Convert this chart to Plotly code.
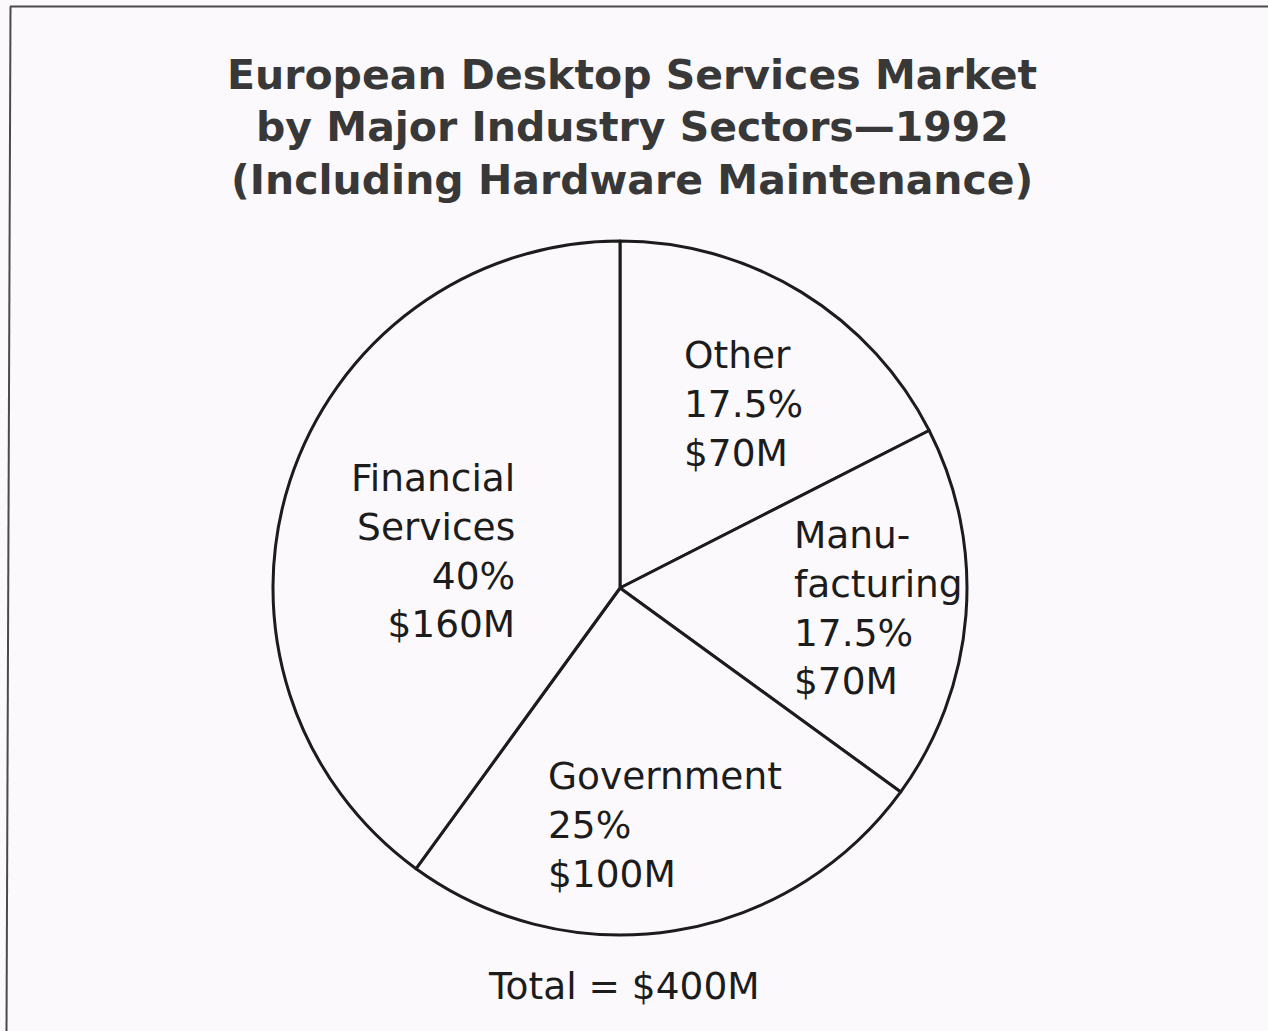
import plotly.graph_objects as go

# Canvas size in pixels
W, H = 1268, 1031

# ---- data -------------------------------------------------------------
sectors = ["Other", "Manufacturing", "Government", "Financial Services"]
sector_text = ["Other", "Manu-<br>facturing", "Government", "Financial<br>Services"]
revenue_musd = [70, 70, 100, 160]
title_lines = [
    "European Desktop Services Market",
    "by Major Industry Sectors\u20141992",
    "(Including Hardware Maintenance)",
]

total_musd = sum(revenue_musd)

# ---- styling ----------------------------------------------------------
BG = "#fbf9fb"
INK = "#1c1c1c"
TITLE_INK = "#383838"
FONT = "DejaVu Sans"
LABEL_SIZE = 37.5
TITLE_SIZE = 41


def px(x):
    return x / W


def py(y):
    return 1 - y / H


fig = go.Figure()

# Pie centred at (620, 588) px with a radius of about 347 px
cx, cy, r = 620, 588, 347
fig.add_trace(
    go.Pie(
        labels=sectors,
        values=revenue_musd,
        sort=False,
        direction="clockwise",
        rotation=0,
        textinfo="none",
        hoverinfo="label+value+percent",
        showlegend=False,
        marker=dict(colors=[BG] * len(sectors), line=dict(color=INK, width=3)),
        domain=dict(x=[px(cx - r), px(cx + r)], y=[py(cy + r), py(cy - r)]),
    )
)

# Slice label text built from the values
def slice_label(i):
    v = revenue_musd[i]
    pct = v / total_musd * 100
    return f"{sector_text[i]}<br>{pct:g}%<br>${v}M"


# (x, top, xanchor, align) for each slice's label block
label_layout = [
    (682, 331, "left", "left"),
    (792, 511, "left", "left"),
    (546, 752, "left", "left"),
    (517, 454, "right", "right"),
]

annotations = []
for i, (x, top, xa, al) in enumerate(label_layout):
    annotations.append(
        dict(
            x=px(x), y=py(top), xref="paper", yref="paper",
            xanchor=xa, yanchor="top", align=al,
            text=slice_label(i), showarrow=False,
            font=dict(family=FONT, size=LABEL_SIZE, color=INK),
        )
    )

# Total line under the pie
annotations.append(
    dict(
        x=px(624), y=py(962), xref="paper", yref="paper",
        xanchor="center", yanchor="top",
        text=f"Total = ${total_musd}M", showarrow=False,
        font=dict(family=FONT, size=LABEL_SIZE, color=INK),
    )
)

# Three-line bold title
for line, top in zip(title_lines, [49, 101, 154]):
    annotations.append(
        dict(
            x=px(632), y=py(top), xref="paper", yref="paper",
            xanchor="center", yanchor="top",
            text=f"<b>{line}</b>", showarrow=False,
            font=dict(family=FONT, size=TITLE_SIZE, color=TITLE_INK),
        )
    )

# Page frame along the top and left edges
shapes = [
    dict(type="line", xref="paper", yref="paper",
         x0=px(10), y0=py(6.5), x1=1, y1=py(6.5),
         line=dict(color="#4a4a4a", width=2)),
    dict(type="line", xref="paper", yref="paper",
         x0=px(10.5), y0=py(6.5), x1=px(6.5), y1=0,
         line=dict(color="#4a4a4a", width=2)),
]

fig.update_layout(
    width=W, height=H,
    margin=dict(l=0, r=0, t=0, b=0),
    paper_bgcolor=BG, plot_bgcolor=BG,
    annotations=annotations,
    shapes=shapes,
)

fig.write_html("out.html")
